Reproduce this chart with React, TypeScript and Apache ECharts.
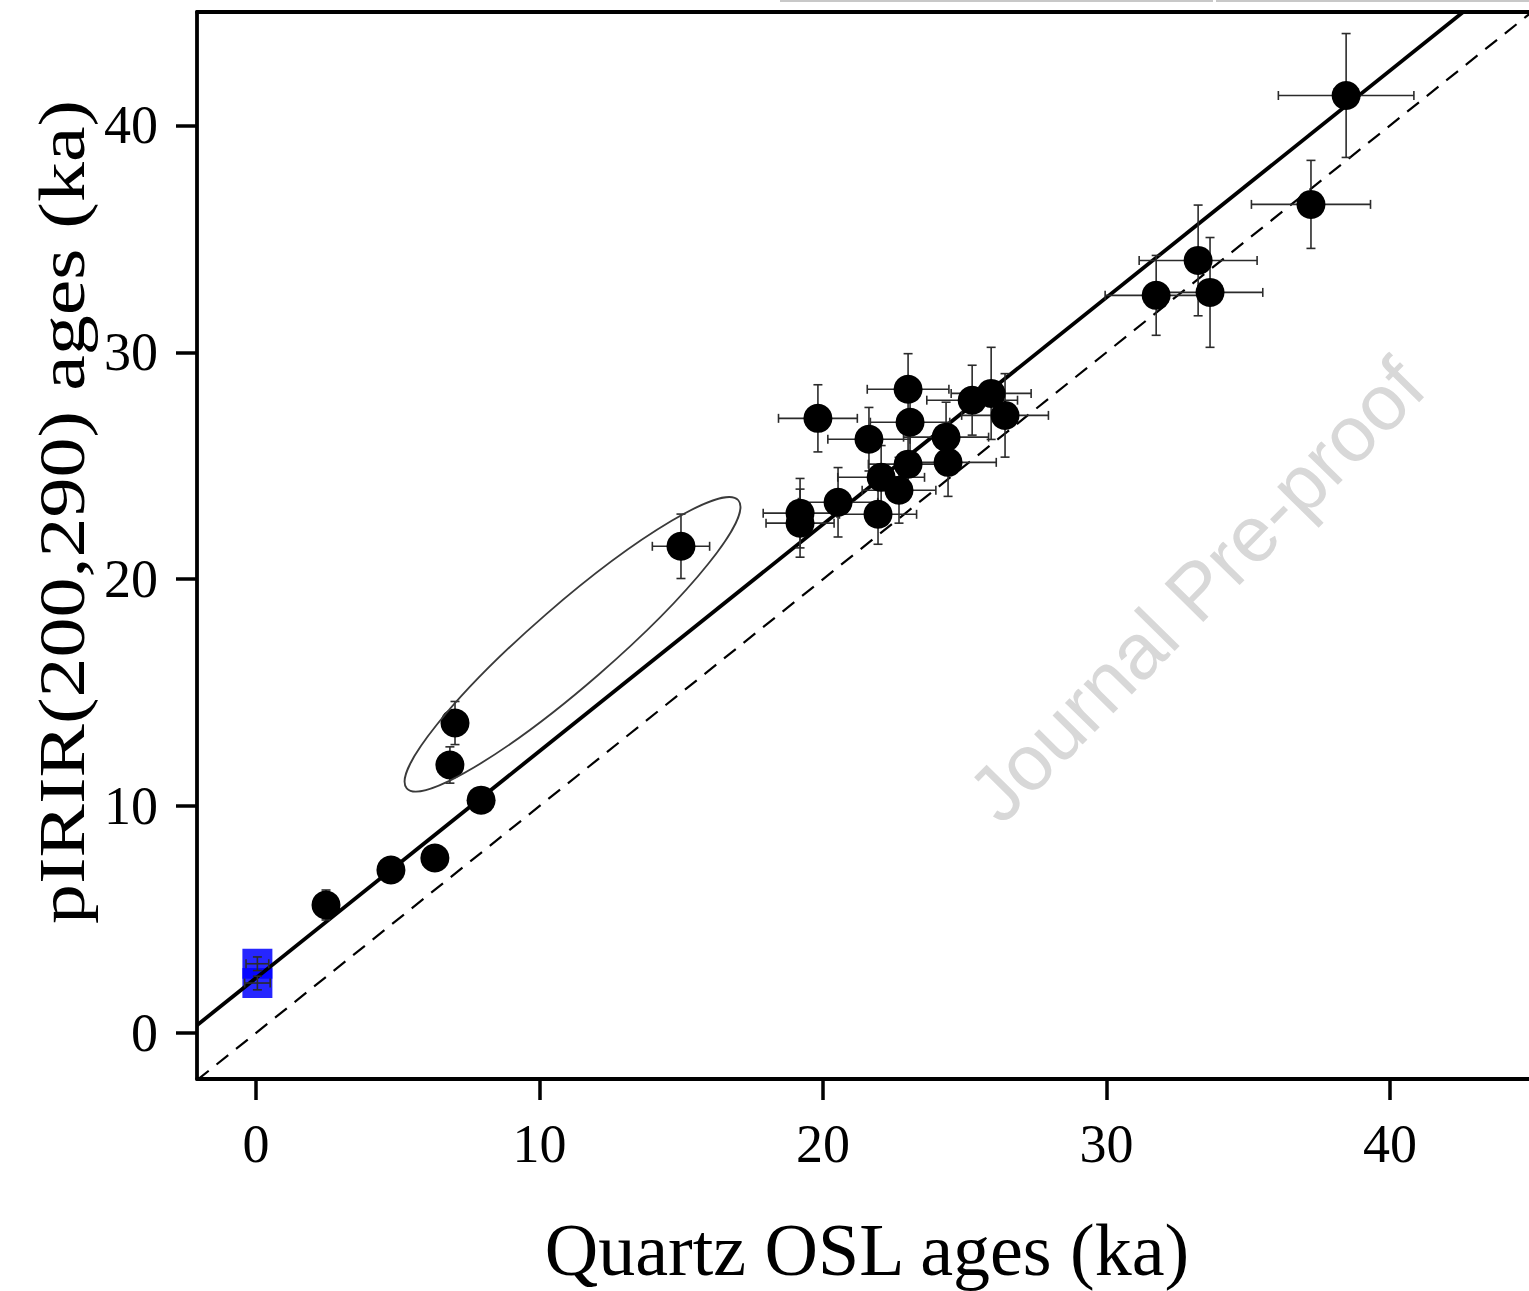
import React, { useEffect, useRef } from "react";
import * as echarts from "echarts";

// Quartz OSL ages (ka) vs pIRIR(200,290) ages (ka), black circles
const quartzAges = [2.47, 4.76, 6.31, 7.94, 6.84, 7.02, 14.99, 19.82, 23.0, 23.07, 21.62, 24.34, 25.26, 25.93, 26.42, 24.41, 23.0, 22.05, 22.68, 20.53, 19.19, 19.19, 21.94, 31.75, 33.23, 33.65, 37.21, 38.45];
const pirirAges = [5.64, 7.18, 7.71, 10.26, 11.81, 13.66, 21.45, 27.09, 28.37, 26.92, 26.17, 26.26, 27.89, 28.19, 27.22, 25.15, 25.07, 24.49, 23.92, 23.39, 22.91, 22.47, 22.86, 32.51, 34.05, 32.64, 36.52, 41.32];
const quartzErr = [0.3, 0.3, 0.3, 0.35, 0.3, 0.3, 1.01, 1.39, 1.44, 1.4, 1.45, 1.5, 1.6, 1.41, 1.53, 1.7, 1.4, 1.53, 1.3, 1.4, 1.3, 1.2, 1.36, 1.8, 2.08, 1.86, 2.1, 2.39];
const pirirErr = [0.66, 0.4, 0.4, 0.5, 0.8, 0.95, 1.42, 1.48, 1.57, 1.3, 1.4, 1.54, 1.54, 2.03, 1.84, 1.5, 1.3, 1.4, 1.45, 1.53, 1.53, 1.5, 1.32, 1.76, 2.44, 2.42, 1.94, 2.73];

// Modern samples (blue squares)
const modernQuartz = [0.05, 0.05];
const modernPirir = [3.05, 2.2];
const modernQuartzErr = [0.4, 0.45];
const modernPirirErr = [0.3, 0.3];

const tickValues = [0, 10, 20, 30, 40];
const xRange = [-2.08, 44.9];
const yRange = [-2.03, 45];
const fitSlope = 1.0;
const fitIntercept = 2.42;
// ellipse around outliers, ends of major axis in data units
const ellipseEnds = [[5.32, 10.78], [17.01, 23.48]];

const SERIF = "'Liberation Serif', 'Times New Roman', serif";

export default function App() {
  const ref = useRef<HTMLDivElement>(null);
  useEffect(() => {
    document.body.style.margin = "0";
    const chart = echarts.init(ref.current!, null, { renderer: "svg" });

    const errData = quartzAges.map((x, i) => [x, pirirAges[i], quartzErr[i], pirirErr[i]]);
    const modernErrData = modernQuartz.map((x, i) => [x, modernPirir[i], modernQuartzErr[i], modernPirirErr[i]]);

    const errRender = (params: any, api: any) => {
      const x = api.value(0), y = api.value(1), ex = api.value(2), ey = api.value(3);
      const c = api.coord([x, y]);
      const l = api.coord([x - ex, y]);
      const r = api.coord([x + ex, y]);
      const t = api.coord([x, y + ey]);
      const b = api.coord([x, y - ey]);
      const cap = 4.5;
      const style = { stroke: "#2b2b2b", lineWidth: 1.6, fill: null };
      return {
        type: "group",
        children: [
          { type: "line", shape: { x1: l[0], y1: c[1], x2: r[0], y2: c[1] }, style },
          { type: "line", shape: { x1: l[0], y1: c[1] - cap, x2: l[0], y2: c[1] + cap }, style },
          { type: "line", shape: { x1: r[0], y1: c[1] - cap, x2: r[0], y2: c[1] + cap }, style },
          { type: "line", shape: { x1: c[0], y1: t[1], x2: c[0], y2: b[1] }, style },
          { type: "line", shape: { x1: c[0] - cap, y1: t[1], x2: c[0] + cap, y2: t[1] }, style },
          { type: "line", shape: { x1: c[0] - cap, y1: b[1], x2: c[0] + cap, y2: b[1] }, style },
        ],
      };
    };

    const axisCommon = {
      type: "value" as const,
      splitLine: { show: false },
      axisLine: { show: true, onZero: false, lineStyle: { color: "#000", width: 3.8 } },
      axisTick: { show: true, length: 21, lineStyle: { color: "#000", width: 3.5 }, customValues: tickValues },
      axisLabel: { color: "#000", fontFamily: SERIF, fontSize: 54, customValues: tickValues },
    };

    chart.setOption({
      animation: false,
      grid: { left: 197, right: 0, top: 12, bottom: 212 },
      xAxis: [
        { ...axisCommon, min: xRange[0], max: xRange[1], position: "bottom", axisLabel: { ...axisCommon.axisLabel, margin: 38 } },
        { type: "value", min: xRange[0], max: xRange[1], position: "top", splitLine: { show: false }, axisLine: { show: true, onZero: false, lineStyle: { color: "#000", width: 3.8 } }, axisTick: { show: false }, axisLabel: { show: false } },
      ],
      yAxis: { ...axisCommon, min: yRange[0], max: yRange[1], position: "left", axisLabel: { ...axisCommon.axisLabel, margin: 39 } },
      series: [
        {
          type: "scatter", name: "modern", z: 1, symbol: "rect", symbolSize: 30,
          itemStyle: { color: "#0000ff", opacity: 0.85 },
          data: modernQuartz.map((x, i) => [x, modernPirir[i]]),
          silent: true,
        },
        {
          type: "line", name: "1:1", z: 3, showSymbol: false, silent: true, clip: true,
          lineStyle: { color: "#000", width: 2.2, type: [15, 10] },
          data: [[xRange[0], xRange[0]], [xRange[1], xRange[1]]],
        },
        {
          type: "line", name: "fit", z: 3, showSymbol: false, silent: true, clip: true,
          lineStyle: { color: "#000", width: 3.8 },
          data: [[xRange[0], fitSlope * xRange[0] + fitIntercept], [xRange[1], fitSlope * xRange[1] + fitIntercept]],
        },
        { type: "custom", z: 4, renderItem: errRender, data: modernErrData, silent: true },
        { type: "custom", z: 4, renderItem: errRender, data: errData, silent: true },
        {
          type: "scatter", name: "samples", z: 5, symbol: "circle", symbolSize: 29,
          itemStyle: { color: "#000", opacity: 1 },
          data: quartzAges.map((x, i) => [x, pirirAges[i]]),
          silent: true,
        },
      ],
    });

    const p1 = chart.convertToPixel({ gridIndex: 0 }, ellipseEnds[0]) as number[];
    const p2 = chart.convertToPixel({ gridIndex: 0 }, ellipseEnds[1]) as number[];
    const cx = (p1[0] + p2[0]) / 2, cy = (p1[1] + p2[1]) / 2;
    const semiMajor = Math.hypot(p2[0] - p1[0], p2[1] - p1[1]) / 2;
    const angle = Math.atan2(p1[1] - p2[1], p2[0] - p1[0]);

    chart.setOption({
      graphic: [
        {
          type: "ellipse", x: cx, y: cy, rotation: angle, z: 10, silent: true,
          shape: { cx: 0, cy: 0, rx: semiMajor, ry: 40 },
          style: { fill: "none", stroke: "#3a3a3a", lineWidth: 1.8 },
        },
        {
          type: "text", x: 1196, y: 590, rotation: (45.5 * Math.PI) / 180, z: 20, silent: true,
          style: { text: "Journal Pre-proof", fill: "#d8d8d8", font: "79px 'Liberation Sans', Arial, sans-serif", textAlign: "center", textVerticalAlign: "middle" },
        },
        {
          type: "text", x: 867, y: 1250, z: 20, silent: true,
          style: { text: "Quartz OSL ages (ka)", fill: "#000", font: `74px ${SERIF}`, textAlign: "center", textVerticalAlign: "middle" },
        },
        {
          type: "text", x: 62, y: 512, rotation: Math.PI / 2, scaleY: 0.82, z: 20, silent: true,
          style: { text: "pIRIR(200,290) ages (ka)", fill: "#000", font: `80px ${SERIF}`, textAlign: "center", textVerticalAlign: "middle" },
        },
        { type: "line", z: 20, silent: true, shape: { x1: 780, y1: 1, x2: 1213, y2: 1 }, style: { stroke: "#c8c8c8", lineWidth: 2 } },
        { type: "line", z: 20, silent: true, shape: { x1: 1216, y1: 1, x2: 1529, y2: 1 }, style: { stroke: "#c8c8c8", lineWidth: 2 } },
      ],
    });

    return () => chart.dispose();
  }, []);
  return <div ref={ref} style={{ width: 1529, height: 1291, position: "fixed", left: 0, top: 0, background: "#fff" }} />;
}
